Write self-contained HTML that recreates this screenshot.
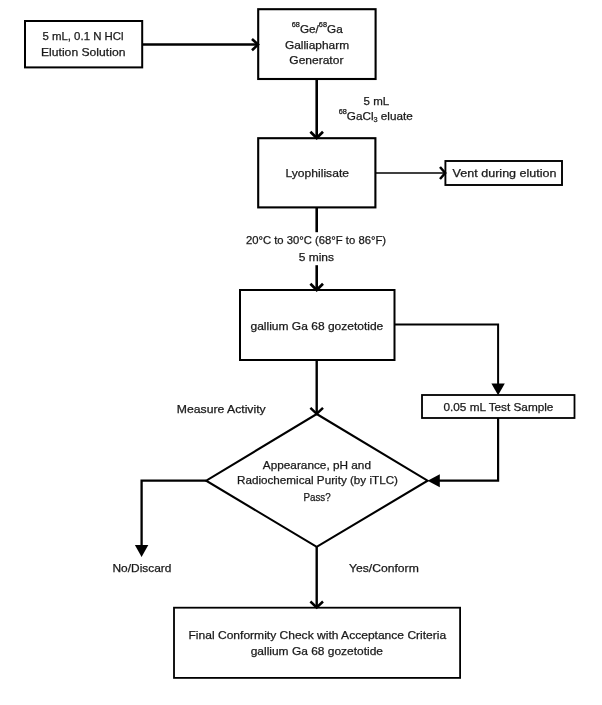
<!DOCTYPE html>
<html>
<head>
<meta charset="utf-8">
<title>Flowchart</title>
<style>
  html, body { margin: 0; padding: 0; background: #ffffff; }
  body { width: 602px; height: 705px; overflow: hidden; }
  svg { display: block; }
  text { font-family: "Liberation Sans", sans-serif; fill: #1a1a1a; stroke: #1a1a1a; stroke-width: 0.25; }
  .b { fill: #ffffff; stroke: #000000; }
  .l { fill: none; stroke: #000000; }
  .f { fill: #000000; stroke: none; }
</style>
</head>
<body>
<svg width="602" height="705" viewBox="0 0 602 705">
  <defs>
    <filter id="soft" x="0" y="0" width="602" height="705" filterUnits="userSpaceOnUse">
      <feGaussianBlur stdDeviation="0.35"/>
    </filter>
  </defs>
  <rect x="0" y="0" width="602" height="705" fill="#ffffff"/>
  <g filter="url(#soft)">
  <rect class="b" x="25.00" y="21.00" width="117.20" height="46.40" stroke-width="2.00"/>
  <rect class="b" x="258.20" y="9.20" width="117.40" height="69.80" stroke-width="2.10"/>
  <rect class="b" x="258.20" y="138.20" width="117.20" height="69.20" stroke-width="2.10"/>
  <rect class="b" x="445.40" y="161.00" width="116.60" height="24.00" stroke-width="1.90"/>
  <rect class="b" x="240.00" y="290.00" width="154.50" height="70.00" stroke-width="2.00"/>
  <rect class="b" x="422.00" y="395.00" width="152.50" height="23.00" stroke-width="1.80"/>
  <polygon class="b" points="316.70,414.00 427.60,480.70 316.70,546.90 206.20,480.70" stroke-width="2.10"/>
  <rect class="b" x="174.00" y="607.70" width="286.10" height="70.20" stroke-width="1.80"/>
  <path class="l" d="M142,44.6 H257.5" stroke-width="2.50"/>
  <path class="l" d="M252.00,39.00 L258.00,44.60 L252.00,50.20" stroke-width="2.60"/>
  <path class="l" d="M316.70,79 V137.5" stroke-width="2.60"/>
  <path class="l" d="M310.40,131.80 L316.70,138.00 L323.00,131.80" stroke-width="2.70"/>
  <path class="l" d="M375.4,173 H445" stroke-width="1.60"/>
  <path class="l" d="M440.00,167.00 L445.20,173.00 L440.00,179.00" stroke-width="2.50"/>
  <path class="l" d="M316.70,207.4 V232.2" stroke-width="2.60"/>
  <path class="l" d="M316.70,265.2 V289.5" stroke-width="2.60"/>
  <path class="l" d="M310.40,283.80 L316.70,290.00 L323.00,283.80" stroke-width="2.70"/>
  <path class="l" d="M394.5,324.4 H498.1 V385" stroke-width="2.00"/>
  <polygon class="f" points="491.40,383.40 504.80,383.40 498.10,395.20"/>
  <path class="l" d="M316.70,360 V413.4" stroke-width="2.40"/>
  <path class="l" d="M310.40,407.80 L316.70,413.80 L323.00,407.80" stroke-width="2.50"/>
  <path class="l" d="M498.1,418 V480.70 H438" stroke-width="2.20"/>
  <polygon class="f" points="439.80,474.20 439.80,487.20 427.60,480.70"/>
  <path class="l" d="M206.2,480.70 H141.6 V546" stroke-width="2.30"/>
  <polygon class="f" points="134.90,545.00 148.30,545.00 141.60,556.90"/>
  <path class="l" d="M316.70,546.9 V607" stroke-width="2.40"/>
  <path class="l" d="M310.40,601.50 L316.70,607.50 L323.00,601.50" stroke-width="2.50"/>
  <g font-size="10.9">
    <text id="t1" x="42.4" y="40.0" textLength="81.2" lengthAdjust="spacingAndGlyphs">5 mL, 0.1 N HCl</text>
    <text id="t2" x="41.0" y="56.3" textLength="84.4" lengthAdjust="spacingAndGlyphs">Elution Solution</text>
    <text id="t3" x="291.8" y="32.5" textLength="50.9" lengthAdjust="spacingAndGlyphs"><tspan font-size="6.8" dy="-5.6">68</tspan><tspan dy="5.6">Ge/</tspan><tspan font-size="6.8" dy="-5.6">68</tspan><tspan dy="5.6">Ga</tspan></text>
    <text id="t4" x="284.9" y="48.6" textLength="64.2" lengthAdjust="spacingAndGlyphs">Galliapharm</text>
    <text id="t5" x="289.3" y="64.0" textLength="54.1" lengthAdjust="spacingAndGlyphs">Generator</text>
    <text id="t6" x="363.6" y="105.0" textLength="25.6" lengthAdjust="spacingAndGlyphs">5 mL</text>
    <text id="t7" x="338.7" y="119.7" textLength="74.1" lengthAdjust="spacingAndGlyphs"><tspan font-size="6.8" dy="-5.6">68</tspan><tspan dy="5.6">GaCl</tspan><tspan font-size="6.8" dy="2.7">3</tspan><tspan dy="-2.7"> eluate</tspan></text>
    <text id="t8" x="285.5" y="177.0" textLength="63.5" lengthAdjust="spacingAndGlyphs">Lyophilisate</text>
    <text id="t9" x="452.6" y="177.0" textLength="104.0" lengthAdjust="spacingAndGlyphs">Vent during elution</text>
    <text id="t10" x="245.9" y="244.3" textLength="140.2" lengthAdjust="spacingAndGlyphs">20°C to 30°C (68°F to 86°F)</text>
    <text id="t11" x="298.7" y="260.5" textLength="35.3" lengthAdjust="spacingAndGlyphs">5 mins</text>
    <text id="t12" x="250.5" y="329.5" textLength="132.8" lengthAdjust="spacingAndGlyphs">gallium Ga 68 gozetotide</text>
    <text id="t13" x="443.5" y="411.0" textLength="109.9" lengthAdjust="spacingAndGlyphs">0.05 mL Test Sample</text>
    <text id="t14" x="176.8" y="413.2" textLength="88.9" lengthAdjust="spacingAndGlyphs">Measure Activity</text>
    <text id="t15" x="262.8" y="469.0" textLength="108.2" lengthAdjust="spacingAndGlyphs">Appearance, pH and</text>
    <text id="t16" x="237.0" y="484.4" textLength="161.0" lengthAdjust="spacingAndGlyphs">Radiochemical Purity (by iTLC)</text>
    <text id="t17" x="303.5" y="500.6" textLength="27.2" lengthAdjust="spacingAndGlyphs" stroke-width="0.45">Pass?</text>
    <text id="t18" x="112.5" y="572.0" textLength="58.9" lengthAdjust="spacingAndGlyphs">No/Discard</text>
    <text id="t19" x="349.0" y="572.0" textLength="69.8" lengthAdjust="spacingAndGlyphs">Yes/Conform</text>
    <text id="t20" x="188.5" y="639.4" textLength="257.7" lengthAdjust="spacingAndGlyphs">Final Conformity Check with Acceptance Criteria</text>
    <text id="t21" x="250.7" y="655.0" textLength="132.3" lengthAdjust="spacingAndGlyphs">gallium Ga 68 gozetotide</text>
  </g>
  </g>
</svg>
</body>
</html>
